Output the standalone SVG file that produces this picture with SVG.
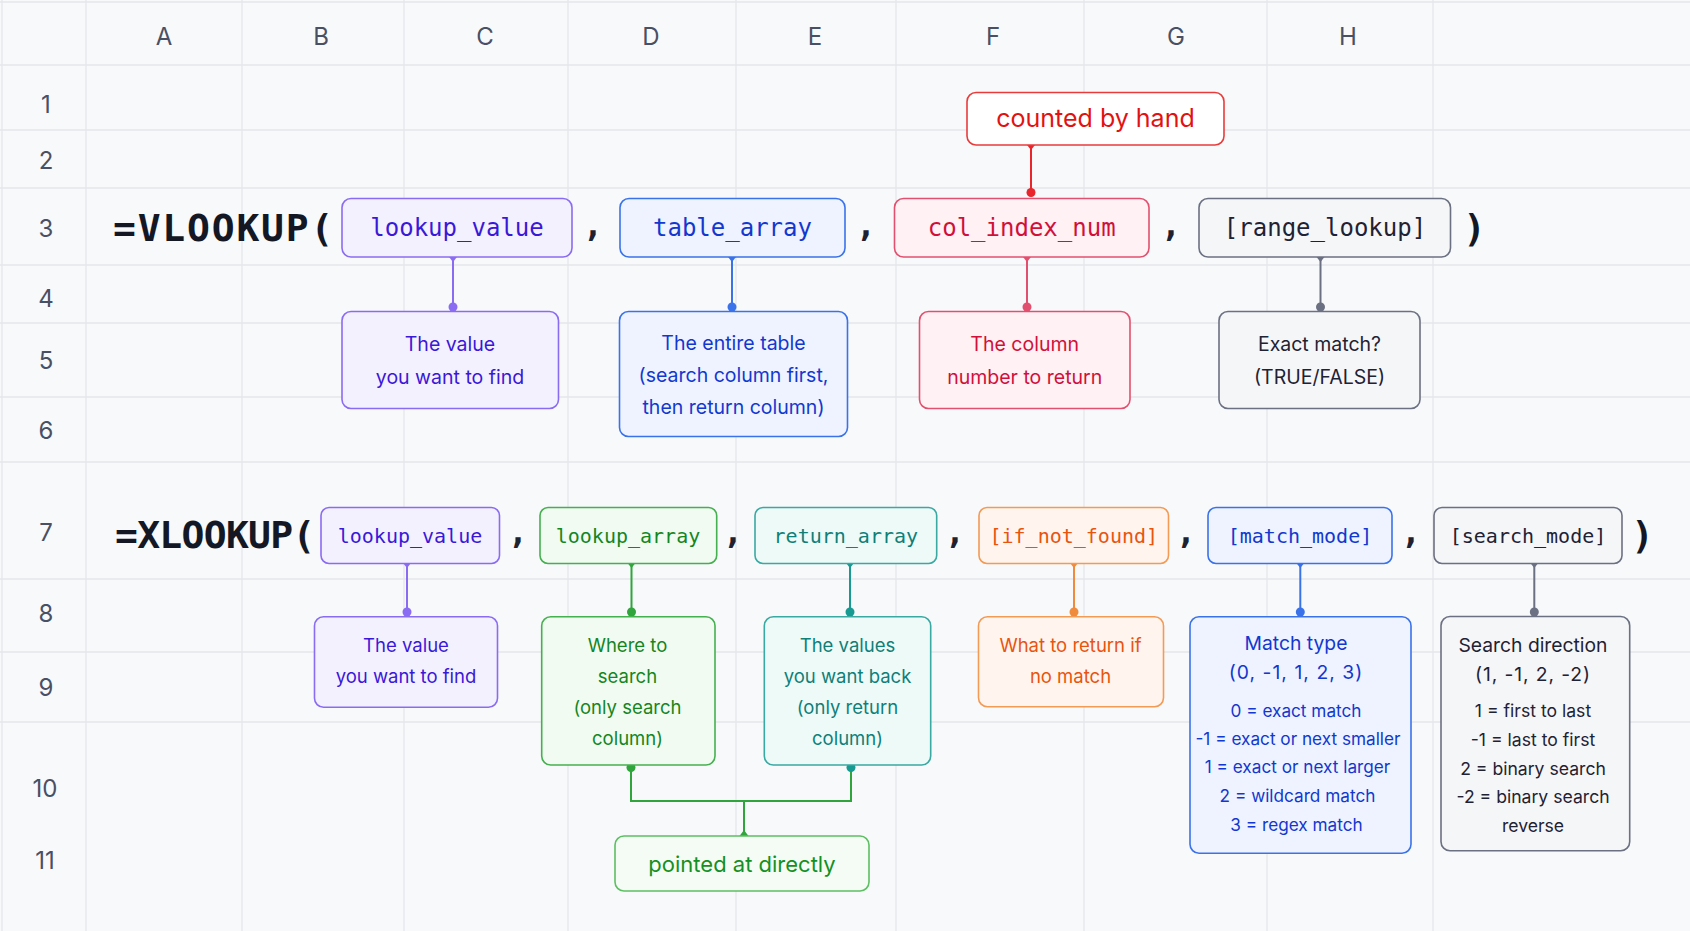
<svg xmlns="http://www.w3.org/2000/svg" width="1690" height="931" viewBox="0 0 1690 931">
<defs>
<style>
.grid line{stroke:#e5e6ea;stroke-width:1.3}
.hdr{font-family:Inter,"Noto Sans",sans-serif;font-size:24px;fill:#4a5064;text-anchor:middle}
.fn{font-family:"DejaVu Sans Mono",monospace;font-weight:bold;font-size:38px;fill:#141824}
.cm{font-family:"DejaVu Sans Mono",monospace;font-weight:bold;font-size:34px;fill:#1e2130;text-anchor:middle}
.arg{font-family:"DejaVu Sans Mono",monospace;font-size:24px;text-anchor:middle}
.arg2{font-family:"DejaVu Sans Mono",monospace;font-size:20px;text-anchor:middle}
.d1{font-family:Inter,"Noto Sans",sans-serif;font-size:19.5px;text-anchor:middle}
.d2{font-family:Inter,"Noto Sans",sans-serif;font-size:18.5px;text-anchor:middle}
.t3{font-family:Inter,"Noto Sans",sans-serif;font-size:19.3px;text-anchor:middle}
.l3{font-family:Inter,"Noto Sans",sans-serif;font-size:17.6px;text-anchor:middle}
.l3m{font-family:Inter,"Noto Sans",sans-serif;font-size:17.2px;text-anchor:middle}
.big{font-family:Inter,"Noto Sans",sans-serif;font-size:25px;text-anchor:middle}
.pad{font-family:Inter,"Noto Sans",sans-serif;font-size:22px;text-anchor:middle}
rect{stroke-width:1.6}
.purple rect{fill:#f4f1ff;stroke:#8a6cf2}.purple text{fill:#3a18d8}
.blue rect{fill:#eef3ff;stroke:#3a72ea}.blue text{fill:#1238cf}
.pink rect{fill:#fff1f4;stroke:#e2506f}.pink text{fill:#d1103a}
.red rect{fill:#ffffff;stroke:#ea3b3b}.red text{fill:#e31212}
.slate rect{fill:#f5f6f8;stroke:#6b7082}.slate text{fill:#1f2233}
.green rect{fill:#f1fbf1;stroke:#45b04f}.green text{fill:#14861e}
.teal rect{fill:#eefaf8;stroke:#3aa9a2}.teal text{fill:#0f7f78}
.orange rect{fill:#fff5ee;stroke:#f39a55}.orange text{fill:#e8540e}
.c line,.c path{fill:none;stroke-width:2}
</style>
</defs>
<rect x="0" y="0" width="1690" height="931" fill="#f8f9fb" stroke="none"/>
<g class="grid">
<line x1="0" y1="2" x2="1690" y2="2"/>
<line x1="2" y1="0" x2="2" y2="931"/>
<line x1="0" y1="65" x2="1690" y2="65"/>
<line x1="0" y1="130" x2="1690" y2="130"/>
<line x1="0" y1="188" x2="1690" y2="188"/>
<line x1="0" y1="265" x2="1690" y2="265"/>
<line x1="0" y1="323" x2="1690" y2="323"/>
<line x1="0" y1="397" x2="1690" y2="397"/>
<line x1="0" y1="462" x2="1690" y2="462"/>
<line x1="0" y1="579" x2="1690" y2="579"/>
<line x1="0" y1="652" x2="1690" y2="652"/>
<line x1="0" y1="722" x2="1690" y2="722"/>
<line x1="86" y1="0" x2="86" y2="931"/>
<line x1="242" y1="0" x2="242" y2="931"/>
<line x1="404" y1="0" x2="404" y2="931"/>
<line x1="568" y1="0" x2="568" y2="931"/>
<line x1="736" y1="0" x2="736" y2="931"/>
<line x1="896" y1="0" x2="896" y2="931"/>
<line x1="1084" y1="0" x2="1084" y2="931"/>
<line x1="1267" y1="0" x2="1267" y2="931"/>
<line x1="1433" y1="0" x2="1433" y2="931"/>
</g>
<g id="headers">
<text class="hdr" x="164" y="45">A</text>
<text class="hdr" x="321" y="45">B</text>
<text class="hdr" x="485" y="45">C</text>
<text class="hdr" x="651" y="45">D</text>
<text class="hdr" x="815" y="45">E</text>
<text class="hdr" x="993" y="45">F</text>
<text class="hdr" x="1176" y="45">G</text>
<text class="hdr" x="1348" y="45">H</text>
<text class="hdr" x="46" y="113">1</text>
<text class="hdr" x="46" y="169">2</text>
<text class="hdr" x="46" y="237">3</text>
<text class="hdr" x="46" y="307">4</text>
<text class="hdr" x="46" y="369">5</text>
<text class="hdr" x="46" y="439">6</text>
<text class="hdr" x="46" y="541">7</text>
<text class="hdr" x="46" y="622">8</text>
<text class="hdr" x="46" y="696">9</text>
<text class="hdr" x="45" y="797">10</text>
<text class="hdr" x="45" y="869">11</text>
</g>
<g id="formulas">
<text class="fn" x="113" y="241" letter-spacing="1.8">=VLOOKUP(</text>
<text class="fn" x="1463" y="241">)</text>
<text class="cm" x="593" y="236">,</text>
<text class="cm" x="866" y="236">,</text>
<text class="cm" x="1171" y="236">,</text>
<text class="fn" x="115" y="548" letter-spacing="-0.7">=XLOOKUP(</text>
<text class="fn" x="1631" y="548">)</text>
<text class="cm" x="518" y="543">,</text>
<text class="cm" x="733" y="543">,</text>
<text class="cm" x="955" y="543">,</text>
<text class="cm" x="1186" y="543">,</text>
<text class="cm" x="1411" y="543">,</text>
</g>
<g class="c" id="connectors">
<g stroke="#8a6cf2" fill="#8a6cf2"><line x1="453" y1="257" x2="453" y2="307"/><path d="M449 257 L457 257 L453 262 Z" stroke="none" style="fill:#8a6cf2"/><circle cx="453" cy="307" r="4.5" stroke="none"/></g>
<g stroke="#3a72ea" fill="#3a72ea"><line x1="732" y1="257" x2="732" y2="307"/><path d="M728 257 L736 257 L732 262 Z" stroke="none" style="fill:#3a72ea"/><circle cx="732" cy="307" r="4.5" stroke="none"/></g>
<g stroke="#e2506f" fill="#e2506f"><line x1="1027" y1="257" x2="1027" y2="307"/><path d="M1023 257 L1031 257 L1027 262 Z" stroke="none" style="fill:#e2506f"/><circle cx="1027" cy="307" r="4.5" stroke="none"/></g>
<g stroke="#6b7082" fill="#6b7082"><line x1="1320.5" y1="257" x2="1320.5" y2="307"/><path d="M1316.5 257 L1324.5 257 L1320.5 262 Z" stroke="none" style="fill:#6b7082"/><circle cx="1320.5" cy="307" r="4.5" stroke="none"/></g>
<g stroke="#e8262b" fill="#e8262b"><line x1="1031" y1="145" x2="1031" y2="192.5"/><path d="M1027 145 L1035 145 L1031 150 Z" stroke="none" style="fill:#e8262b"/><circle cx="1031" cy="192.5" r="4.5" stroke="none"/></g>
<g stroke="#8a6cf2" fill="#8a6cf2"><line x1="407" y1="563" x2="407" y2="612"/><path d="M403 563 L411 563 L407 568 Z" stroke="none" style="fill:#8a6cf2"/><circle cx="407" cy="612" r="4.5" stroke="none"/></g>
<g stroke="#2fa53b" fill="#2fa53b"><line x1="631.5" y1="563" x2="631.5" y2="612"/><path d="M627.5 563 L635.5 563 L631.5 568 Z" stroke="none" style="fill:#2fa53b"/><circle cx="631.5" cy="612" r="4.5" stroke="none"/></g>
<g stroke="#179a92" fill="#179a92"><line x1="850" y1="563" x2="850" y2="612"/><path d="M846 563 L854 563 L850 568 Z" stroke="none" style="fill:#179a92"/><circle cx="850" cy="612" r="4.5" stroke="none"/></g>
<g stroke="#f08a3c" fill="#f08a3c"><line x1="1074" y1="563" x2="1074" y2="612"/><path d="M1070 563 L1078 563 L1074 568 Z" stroke="none" style="fill:#f08a3c"/><circle cx="1074" cy="612" r="4.5" stroke="none"/></g>
<g stroke="#3a72ea" fill="#3a72ea"><line x1="1300.3" y1="563" x2="1300.3" y2="612"/><path d="M1296.3 563 L1304.3 563 L1300.3 568 Z" stroke="none" style="fill:#3a72ea"/><circle cx="1300.3" cy="612" r="4.5" stroke="none"/></g>
<g stroke="#6b7082" fill="#6b7082"><line x1="1534.3" y1="563" x2="1534.3" y2="612"/><path d="M1530.3 563 L1538.3 563 L1534.3 568 Z" stroke="none" style="fill:#6b7082"/><circle cx="1534.3" cy="612" r="4.5" stroke="none"/></g>
<g stroke="#2fa53b"><path d="M631 767.5 V801 H851 V767.5"/><line x1="744" y1="801" x2="744" y2="836"/><path d="M739.5 836 L748.5 836 L744 830 Z" stroke="none" style="fill:#2fa53b"/><circle cx="631" cy="767.5" r="4.5" stroke="none" fill="#2fa53b"/><circle cx="851" cy="767.5" r="4.5" stroke="none" fill="#179a92"/></g>
</g>
<g id="v_lookup_value" class="purple"><rect x="342" y="198.5" width="230" height="58.5" rx="9"/><text class="arg" x="457" y="236">lookup_value</text></g>
<g id="v_table_array" class="blue"><rect x="620" y="198.5" width="225" height="58.5" rx="9"/><text class="arg" x="732.5" y="236">table_array</text></g>
<g id="v_col_index_num" class="pink"><rect x="894.5" y="198.5" width="254.5" height="58.5" rx="9"/><text class="arg" x="1021.7" y="236">col_index_num</text></g>
<g id="v_range_lookup" class="slate"><rect x="1199" y="198.5" width="251.5" height="58.5" rx="9"/><text class="arg" x="1325" y="236">[range_lookup]</text></g>
<g id="counted_by_hand" class="red"><rect x="967" y="92.5" width="257" height="52.5" rx="9"/><text class="big" x="1095.5" y="127">counted by hand</text></g>
<g id="v_desc_value" class="purple"><rect x="342" y="311.5" width="216.5" height="97" rx="9"/><text class="d1" x="450" y="350.5">The value</text><text class="d1" x="450" y="384">you want to find</text></g>
<g id="v_desc_table" class="blue"><rect x="619.5" y="311.5" width="228" height="125" rx="9"/><text class="d1" x="733.5" y="349.5">The entire table</text><text class="d1" x="733.5" y="381.5">(search column first,</text><text class="d1" x="733.5" y="413.5">then return column)</text></g>
<g id="v_desc_col" class="pink"><rect x="919.5" y="311.5" width="210.5" height="97" rx="9"/><text class="d1" x="1024.7" y="350.5">The column</text><text class="d1" x="1024.7" y="384">number to return</text></g>
<g id="v_desc_exact" class="slate"><rect x="1219" y="311.5" width="201" height="97" rx="9"/><text class="d1" x="1319.5" y="350.5">Exact match?</text><text class="d1" x="1319.5" y="384">(TRUE/FALSE)</text></g>
<g id="x_lookup_value" class="purple"><rect x="321" y="507.5" width="178.5" height="56" rx="8"/><text class="arg2" x="410" y="543">lookup_value</text></g>
<g id="x_lookup_array" class="green"><rect x="540" y="507.5" width="176.7" height="56" rx="8"/><text class="arg2" x="628" y="543">lookup_array</text></g>
<g id="x_return_array" class="teal"><rect x="755" y="507.5" width="181.7" height="56" rx="8"/><text class="arg2" x="845.8" y="543">return_array</text></g>
<g id="x_if_not_found" class="orange"><rect x="979" y="507.5" width="189.5" height="56" rx="8"/><text class="arg2" x="1073.8" y="543">[if_not_found]</text></g>
<g id="x_match_mode" class="blue"><rect x="1208" y="507.5" width="184" height="56" rx="8"/><text class="arg2" x="1300" y="543">[match_mode]</text></g>
<g id="x_search_mode" class="slate"><rect x="1434" y="507.5" width="188" height="56" rx="8"/><text class="arg2" x="1528" y="543">[search_mode]</text></g>
<g id="x_desc_value" class="purple"><rect x="314.5" y="616.7" width="183" height="90.5" rx="9"/><text class="d2" x="406" y="651.7">The value</text><text class="d2" x="406" y="682.7">you want to find</text></g>
<g id="x_desc_where" class="green"><rect x="541.7" y="616.7" width="173.3" height="148.3" rx="9"/><text class="d2" x="627.5" y="651.7">Where to</text><text class="d2" x="627.5" y="682.5">search</text><text class="d2" x="627.5" y="713.5">(only search</text><text class="d2" x="627.5" y="744.5">column)</text></g>
<g id="x_desc_values" class="teal"><rect x="764.3" y="616.7" width="166.4" height="148.3" rx="9"/><text class="d2" x="847.5" y="651.7">The values</text><text class="d2" x="847.5" y="682.5">you want back</text><text class="d2" x="847.5" y="713.5">(only return</text><text class="d2" x="847.5" y="744.5">column)</text></g>
<g id="x_desc_notfound" class="orange"><rect x="978.5" y="616.7" width="185" height="90" rx="9"/><text class="d2" x="1070.5" y="651.7">What to return if</text><text class="d2" x="1070.5" y="682.7">no match</text></g>
<g id="x_desc_match" class="blue"><rect x="1190" y="616.7" width="221" height="236.6" rx="9"/><text class="t3" x="1296" y="650">Match type</text><text class="t3" x="1296" y="679.3" letter-spacing="1.05">(0, -1, 1, 2, 3)</text><text class="l3m" x="1296" y="716.7">0 = exact match</text><text class="l3m" x="1298" y="745">-1 = exact or next smaller</text><text class="l3m" x="1297.5" y="773.3">1 = exact or next larger</text><text class="l3m" x="1297.5" y="801.7">2 = wildcard match</text><text class="l3m" x="1296.5" y="830.5">3 = regex match</text></g>
<g id="x_desc_search" class="slate"><rect x="1441" y="616.5" width="188.7" height="234.2" rx="9"/><text class="t3" x="1533" y="651.7">Search direction</text><text class="t3" x="1533" y="681" letter-spacing="0.9">(1, -1, 2, -2)</text><text class="l3" x="1533" y="717.3">1 = first to last</text><text class="l3" x="1533" y="745.7">-1 = last to first</text><text class="l3" x="1533" y="775">2 = binary search</text><text class="l3" x="1533" y="803.3">-2 = binary search</text><text class="l3" x="1533" y="831.7">reverse</text></g>
<g id="pointed_at_directly" class="green"><rect x="615" y="836" width="254" height="55" rx="9" style="fill:#f5fcf5;stroke:#5cbf62"/><text class="pad" x="742" y="871.5" style="fill:#149023">pointed at directly</text></g>
</svg>
